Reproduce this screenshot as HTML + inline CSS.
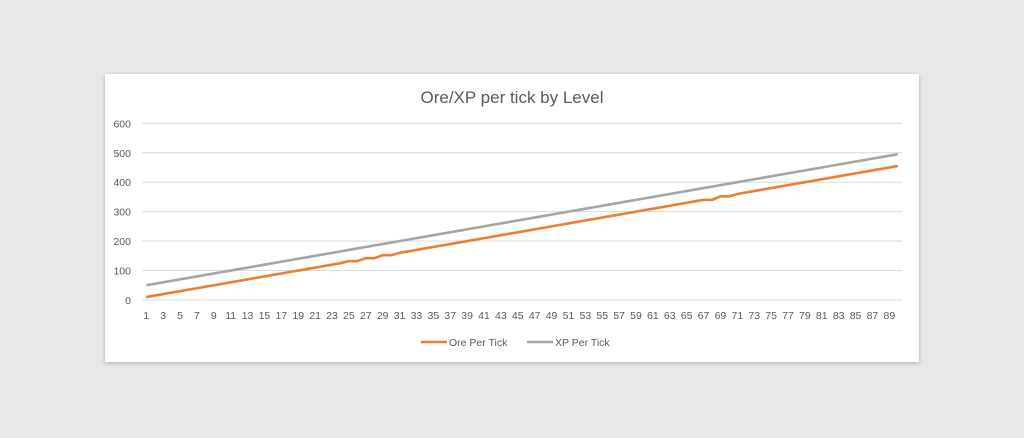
<!DOCTYPE html>
<html><head><meta charset="utf-8"><style>
body{margin:0;width:1024px;height:438px;background:#e8e8e8;overflow:hidden;font-family:"Liberation Sans",sans-serif}
#card{position:absolute;left:105px;top:74px;width:814px;height:288px;background:#fff;box-shadow:0 1px 4px rgba(0,0,0,.25)}
</style></head><body>
<div id="card">
<svg id="svg" width="814" height="288"></svg>
</div>
<script>
const categories=[];for(let i=1;i<=90;i++)categories.push(i);
const yTicks=[0,100,200,300,400,500,600];
const ore=[10,15,20,25,30,35,40,45,50,55,60,65,70,75,80,85,90,95,100,105,110,115,120,125,132,132,142,142,152,152,160,165,170,175,180,185,190,195,200,205,210,215,220,225,230,235,240,245,250,255,260,265,270,275,280,285,290,295,300,305,310,315,320,325,330,335,340,340,352,352,360,365,370,375,380,385,390,395,400,405,410,415,420,425,430,435,440,445,450,455];
const xp=[50,55,60,65,70,75,80,85,90,95,100,105,110,115,120,125,130,135,140,145,150,155,160,165,170,175,180,185,190,195,200,205,210,215,220,225,230,235,240,245,250,255,260,265,270,275,280,285,290,295,300,305,310,315,320,325,330,335,340,345,350,355,360,365,370,375,380,385,390,395,400,405,410,415,420,425,430,435,440,445,450,455,460,465,470,475,480,485,490,495];
const NS='http://www.w3.org/2000/svg',svg=document.getElementById('svg');
const L=37,R=797,T=49.3,B=226;
const step=(R-L)/categories.length;
const xs=i=>L+step*(i+0.5), ys=v=>B-(v/600)*(B-T);
function mk(t,a,p){const e=document.createElementNS(NS,t);for(const k in a)e.setAttribute(k,a[k]);(p||svg).appendChild(e);return e;}
const title=mk('text',{x:407,y:29,'text-anchor':'middle','font-size':17,fill:'#595959'});title.textContent='Ore/XP per tick by Level';


yTicks.forEach(v=>{
 const g=mk('line',{x1:L,x2:R,y1:ys(v),y2:ys(v),stroke:'#d9d9d9','stroke-width':1});
 
 
 const t=mk('text',{x:26,y:ys(v)+4,'text-anchor':'end','font-size':10.5,fill:'#595959'});t.textContent=v;
 
 
});
categories.forEach((c,i)=>{if(i%2)return;
 const t=mk('text',{x:xs(i),y:B+19,'text-anchor':'middle','font-size':10.5,fill:'#595959'});t.textContent=c;
 
 
});
function line(vals,color,name){
 const p=mk('polyline',{points:vals.map((v,i)=>xs(i)+','+ys(v)).join(' '),fill:'none',stroke:color,'stroke-width':2.6,'stroke-linejoin':'round'});
 
 
}
line(xp,'#a5a5a5','xp-per-tick-line');
line(ore,'#ed7d31','ore-per-tick-line');
function leg(x,color,label,name){
 const g=mk('g',{});
 
 
 mk('line',{x1:x,x2:x+26,y1:268,y2:268,stroke:color,'stroke-width':2.6},g);
 const t=mk('text',{x:x+28,y:272,'font-size':10.5,fill:'#595959'},g);t.textContent=label;
}
leg(316,'#ed7d31','Ore Per Tick','legend-ore');
leg(422,'#a5a5a5','XP Per Tick','legend-xp');
</script>
</body></html>
